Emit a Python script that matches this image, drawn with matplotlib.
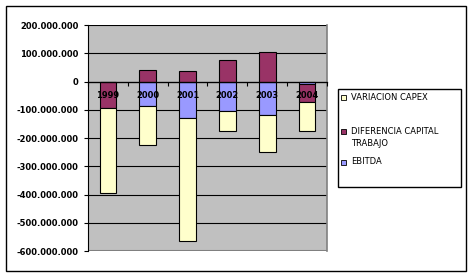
import matplotlib
matplotlib.use('Agg')
import matplotlib.pyplot as plt
import numpy as np
from matplotlib.patches import Rectangle

# data (values in pesos)
years = ['1999', '2000', '2001', '2002', '2003', '2004']
ebitda = [0, -88e6, -130e6, -105e6, -120e6, -10e6]
dif_capital = [-95e6, 40e6, 36e6, 75e6, 103e6, -64e6]
variacion_capex = [-298e6, -138e6, -435e6, -71e6, -130e6, -102e6]

legend_labels = ['VARIACION CAPEX', 'DIFERENCIA CAPITAL\nTRABAJO', 'EBITDA']
yticks = np.arange(-6e8, 2.01e8, 1e8)

W, H = 471, 276
fig = plt.figure(figsize=(W / 100, H / 100), dpi=100)
ax = fig.add_axes([88 / W, (H - 251) / H, 239 / W, 226 / H])
ax.set_facecolor('#C0C0C0')
ax.set_axisbelow(False)  # axis line and year labels go over the bars

x = np.arange(len(years))
pos_base = np.zeros(len(years))
neg_base = np.zeros(len(years))
# Excel stacking order: EBITDA first, then capital de trabajo, then capex
series = [(ebitda, '#9999FF'), (dif_capital, '#993366'), (variacion_capex, '#FFFFCC')]
for vals, color in series:
    vals = np.array(vals)
    bottom = np.where(vals >= 0, pos_base, neg_base)
    ax.bar(x, vals, 0.42, bottom=bottom, color=color, edgecolor='black', lw=0.8, zorder=2)
    pos_base += np.clip(vals, 0, None)
    neg_base += np.clip(vals, None, 0)

ax.set_xlim(-0.5, 5.5)
ax.set_ylim(-6e8, 2e8)

# gridlines (bottom edge is the grey plot border instead)
for v in yticks[1:]:
    ax.axhline(v, color='black', lw=0.8, zorder=1)
ax.axhline(-6e8, color='#808080', lw=1.5, zorder=1)

ax.set_yticks(yticks)
ax.set_yticklabels([f"{v:,.0f}".replace(',', '.') for v in yticks])
ax.tick_params(axis='y', length=3, width=0.8, pad=4, labelsize=6)
for lab in ax.get_yticklabels():
    lab.set_fontweight('bold')

# category axis sits on zero
ax.spines['bottom'].set_position(('data', 0))
ax.spines['bottom'].set_linewidth(0.9)
ax.spines['top'].set_visible(False)
ax.spines['right'].set_color('#808080')
ax.spines['right'].set_linewidth(1.2)
ax.spines['left'].set_linewidth(0.8)
ax.set_xticks(np.arange(-0.5, 6, 1))
ax.set_xticklabels([])
ax.set_xticks(x, minor=True)
ax.set_xticklabels(years, minor=True)
ax.tick_params(axis='x', which='major', length=3, width=0.8, direction='out')
ax.tick_params(axis='x', which='minor', length=0, pad=7, labelsize=6)
for lab in ax.get_xticklabels(minor=True):
    lab.set_fontweight('bold')

# outer chart border
fig.patches.append(Rectangle((5.5 / W, (H - 270.7) / H), 460 / W, 265.2 / H,
                             transform=fig.transFigure, fill=False, edgecolor='black', lw=1))

# legend box, drawn by hand to match the Excel layout
fig.patches.append(Rectangle((338 / W, (H - 187) / H), 123 / W, 98 / H,
                             transform=fig.transFigure, fill=False, edgecolor='black', lw=1))
legend_y = [97, 131, 162]
legend_colors = ['#FFFFCC', '#993366', '#9999FF']
for label, yy, col in zip(legend_labels, legend_y, legend_colors):
    fig.patches.append(Rectangle((341 / W, (H - yy - 2.5) / H), 5 / W, 5 / H,
                                 transform=fig.transFigure, facecolor=col,
                                 edgecolor='black', lw=0.6))
    fig.text(351 / W, (H - yy + 4.5) / H, label, fontsize=6, va='top', ha='left',
             linespacing=1.5)

fig.savefig('out.png', dpi=100)
